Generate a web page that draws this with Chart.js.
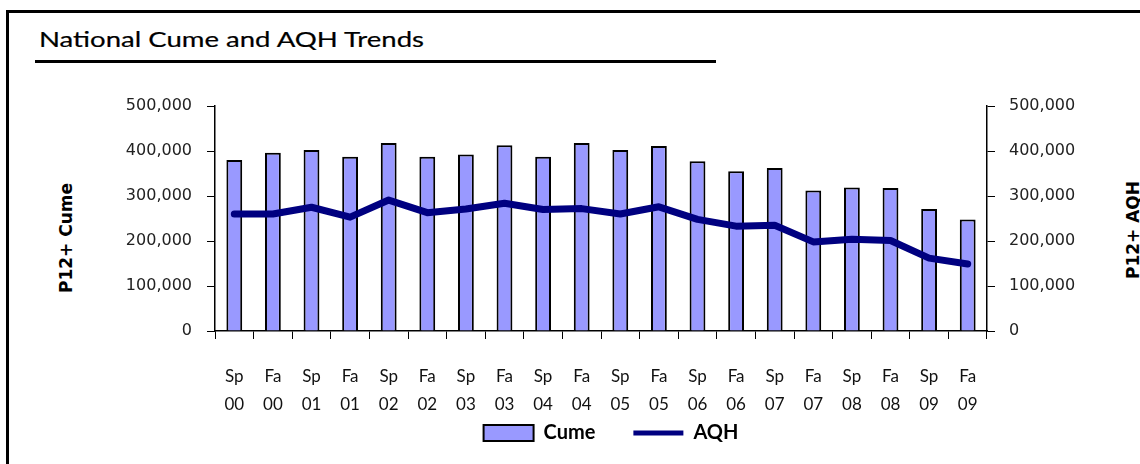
<!DOCTYPE html>
<html>
<head>
<meta charset="utf-8">
<script src="https://cdn.jsdelivr.net/npm/chart.js@4"></script>
<style>
  html, body { margin: 0; padding: 0; background: #fff; overflow: hidden; width: 1140px; height: 464px; }
  #frame { position: absolute; left: 6px; top: 10px; width: 1200px; height: 500px; border-left: 3px solid #000; border-top: 3px solid #000; }
  #title { position: absolute; left: 39px; top: 28px; font-family: Lato, sans-serif; font-size: 22px; line-height: 22px; color: #000; white-space: nowrap; transform-origin: 0 0; -webkit-text-stroke: 0.2px #000; }
  #rule { position: absolute; left: 35px; top: 60px; width: 681px; height: 3px; background: #000; }
  .ytitle { position: absolute; font-family: "DejaVu Sans", sans-serif; font-weight: bold; font-size: 17px; line-height: 17px; color: #000; white-space: nowrap; transform: translate(-50%, -50%) rotate(-90deg); }
  #yl { left: 66px; top: 238px; }
  #yr { left: 1133px; top: 230px; }
  #c { position: absolute; left: 0; top: 0; }
</style>
</head>
<body>
<div id="frame"></div>
<div id="title">National Cume and AQH Trends</div>
<div id="rule"></div>
<div class="ytitle" id="yl">P12+ Cume</div>
<div class="ytitle" id="yr">P12+ AQH</div>
<canvas id="c" width="1140" height="464"></canvas>
<script>
// ---- data ----
const seasons = ['Sp','Fa','Sp','Fa','Sp','Fa','Sp','Fa','Sp','Fa','Sp','Fa','Sp','Fa','Sp','Fa','Sp','Fa','Sp','Fa'];
const years   = ['00','00','01','01','02','02','03','03','04','04','05','05','06','06','07','07','08','08','09','09'];
const cumeValues = [380000, 396000, 402000, 387000, 418000, 387000, 392000, 413000, 387000, 418000,
                    402000, 411000, 377000, 355000, 362000, 312000, 319000, 318000, 271000, 248000];
const aqhValues  = [260000, 260000, 275000, 253000, 291000, 263000, 271000, 284000, 270000, 272000,
                    260000, 276000, 248000, 233000, 235000, 198000, 204000, 201000, 162000, 149000];
const seriesNames = ['Cume', 'AQH'];
const axisMin = 0, axisMax = 500000, axisStep = 100000;

// fit title width
(function(){
  const t = document.getElementById('title');
  const w = t.getBoundingClientRect().width;
  t.style.transform = 'scaleX(' + (385 / w) + ')';
})();

const labels = seasons.map((s, i) => [s, years[i]]);
const fmt = v => Number(v).toLocaleString('en-US');

const yTickFont = { family: 'DejaVu Sans', size: 16 };

new Chart(document.getElementById('c'), {
  data: {
    labels: labels,
    datasets: [
      {
        type: 'bar',
        label: seriesNames[0],
        data: cumeValues,
        yAxisID: 'y',
        backgroundColor: '#9999FF',
        borderColor: '#000000',
        borderWidth: 2,
        barPercentage: 0.41,
        categoryPercentage: 1.0,
        order: 1
      },
      {
        type: 'line',
        label: seriesNames[1],
        data: aqhValues,
        yAxisID: 'y2',
        borderColor: '#000080',
        backgroundColor: '#000080',
        borderWidth: 7,
        pointRadius: 0,
        tension: 0,
        borderJoinStyle: 'round',
        borderCapStyle: 'round',
        order: 0
      }
    ]
  },
  options: {
    responsive: false,
    animation: false,
    devicePixelRatio: 1,
    layout: { padding: { left: 82, right: 0, top: 106, bottom: 11 } },
    plugins: {
      tooltip: { enabled: false },
      title: { display: false },
      legend: {
        position: 'bottom',
        labels: {
          usePointStyle: true,
          pointStyleWidth: 50,
          boxWidth: 50,
          boxHeight: 16,
          padding: 38,
          color: '#000',
          font: { family: 'Lato', size: 20, weight: 'bold' },
          sort: (a, b) => a.datasetIndex - b.datasetIndex,
          generateLabels: (chart) => {
            const items = Chart.defaults.plugins.legend.labels.generateLabels(chart);
            items.forEach(it => {
              if (it.datasetIndex === 0) {
                it.pointStyle = 'rect';
                it.fillStyle = '#9999FF';
                it.strokeStyle = '#000';
                it.lineWidth = 2;
              } else {
                it.pointStyle = 'line';
                it.strokeStyle = '#000080';
                it.fillStyle = '#000080';
                it.lineWidth = 5;
              }
            });
            return items;
          }
        }
      }
    },
    scales: {
      x: {
        offset: true,
        grid: { offset: true, drawOnChartArea: false, drawTicks: true, tickLength: 8, color: '#000', lineWidth: 1 },
        border: { display: true, color: '#000', width: 1.5 },
        ticks: { autoSkip: false, maxRotation: 0, minRotation: 0, padding: 24, color: '#111',
                 font: { family: 'Lato', size: 17, lineHeight: 28 / 17 } },
        afterFit: s => {
          s.height = 54;
          // two-line labels run below the compact axis box; do not clip them
          s._computeLabelArea = () => undefined;
        }
      },
      y: {
        position: 'left',
        min: axisMin, max: axisMax,
        grid: { drawOnChartArea: false, tickLength: 8, color: '#000' },
        border: { display: true, color: '#000', width: 1.5 },
        ticks: { stepSize: axisStep, padding: 15, color: '#222', font: yTickFont, callback: fmt },
        afterFit: s => { s.width = 215 - 82; }
      },
      y2: {
        position: 'right',
        min: axisMin, max: axisMax,
        grid: { drawOnChartArea: false, tickLength: 8, color: '#000' },
        border: { display: true, color: '#000', width: 1.5 },
        ticks: { stepSize: axisStep, padding: 14, color: '#222', font: yTickFont, callback: fmt },
        afterFit: s => { s.width = 1140 - 987; }
      }
    }
  }
});
</script>
</body>
</html>
